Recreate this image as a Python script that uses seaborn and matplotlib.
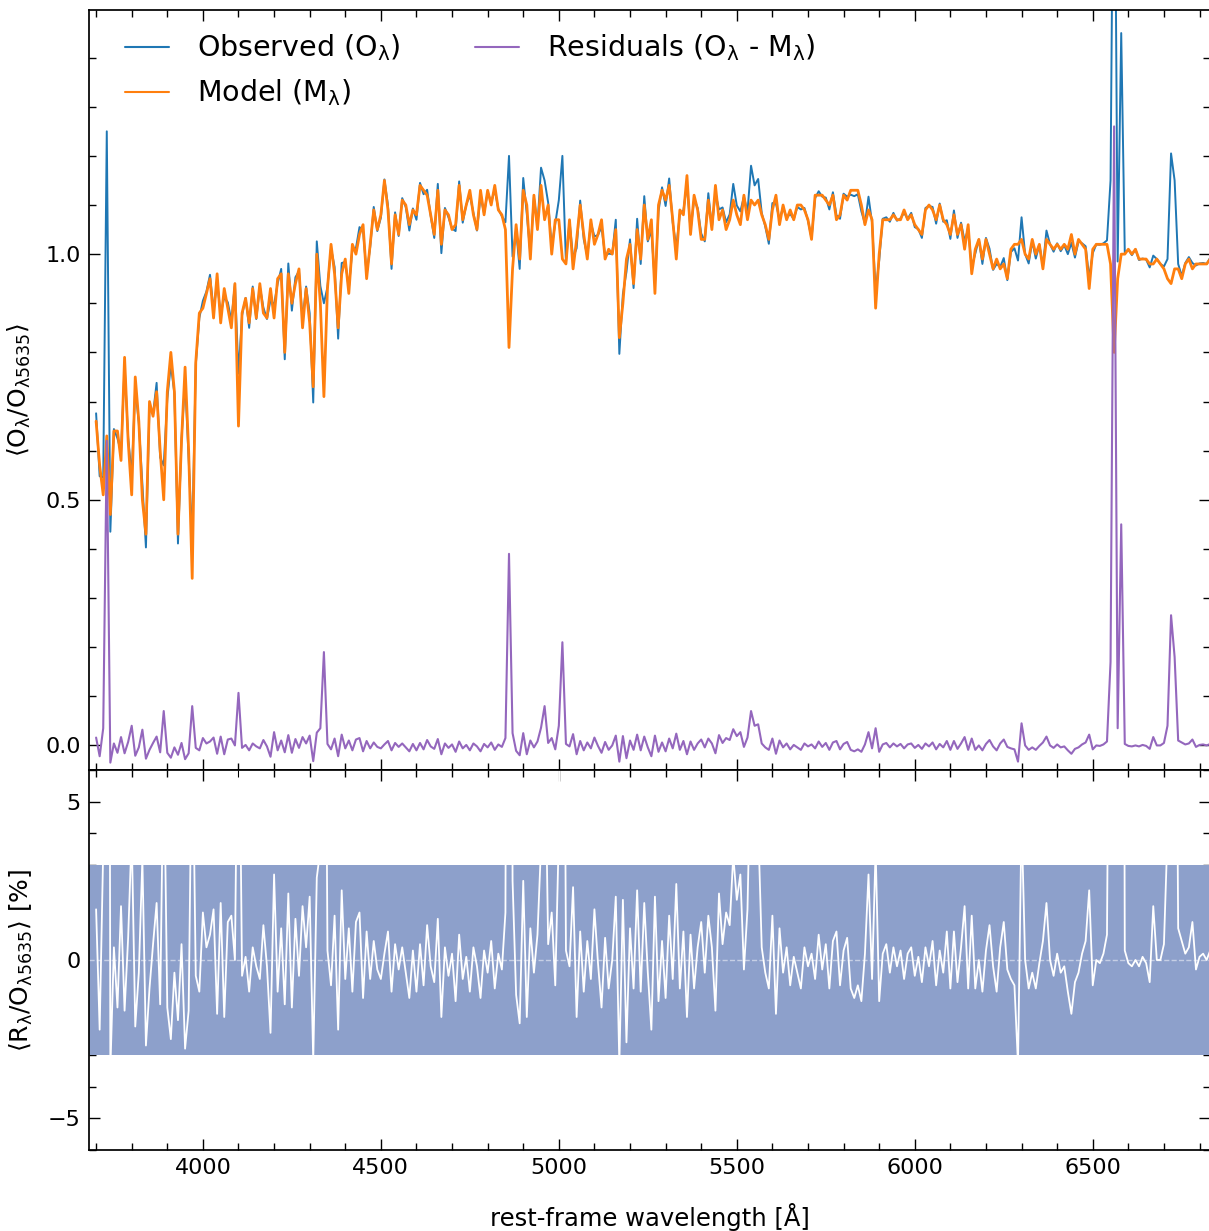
import numpy as np
import pandas as pd
import matplotlib
matplotlib.use('Agg')
import matplotlib.pyplot as plt
from matplotlib.ticker import MultipleLocator
import seaborn as sns

# wavelength sampling of the spectrum [Angstrom]
wl_start, wl_stop, wl_step = 3700, 6830, 10

# model spectrum M_lambda (normalised at 5635 A), one value per 10 A from 3700 A
model = [
    .66, .57, .51, .63, .47, .64, .64, .58, .79, .62,
    .51, .75, .66, .50, .43, .70, .67, .72, .60, .50,
    .72, .80, .72, .43, .62, .77, .60, .34, .78, .88,
    .89, .92, .95, .87, .96, .86, .93, .89, .85, .94,
    .65, .88, .91, .86, .93, .87, .94, .88, .87, .93,
    .87, .95, .96, .80, .96, .90, .94, .97, .85, .93,
    .86, .73, 1.00, .90, .71, .93, 1.02, .96, .85, .96,
    .99, .92, 1.02, 1.00, 1.04, 1.06, .95, 1.02, 1.09, 1.05,
    1.08, 1.15, 1.09, .98, 1.08, 1.04, 1.11, 1.10, 1.06, 1.09,
    1.08, 1.14, 1.13, 1.12, 1.08, 1.04, 1.13, 1.02, 1.09, 1.08,
    1.05, 1.06, 1.14, 1.07, 1.10, 1.13, 1.08, 1.05, 1.13, 1.08,
    1.13, 1.10, 1.14, 1.09, 1.08, 1.05, .81, .97, 1.06, .99,
    1.13, 1.10, .99, 1.12, 1.05, 1.14, 1.07, 1.10, 1.00, 1.07,
    1.07, .99, .98, 1.07, .97, 1.03, 1.10, 1.04, .99, 1.07,
    1.02, 1.04, 1.07, .99, 1.01, 1.00, 1.05, .83, .90, .99,
    1.02, .94, 1.05, .99, 1.10, 1.03, 1.07, .92, 1.10, 1.13,
    1.11, 1.14, 1.07, .99, 1.09, 1.08, 1.16, 1.04, 1.12, 1.09,
    1.03, 1.03, 1.11, 1.05, 1.14, 1.07, 1.09, 1.05, 1.07, 1.11,
    1.08, 1.06, 1.12, 1.07, 1.11, 1.10, 1.11, 1.08, 1.06, 1.03,
    1.09, 1.12, 1.06, 1.10, 1.07, 1.09, 1.07, 1.10, 1.10, 1.09,
    1.07, 1.03, 1.12, 1.12, 1.12, 1.11, 1.10, 1.12, 1.07, 1.08,
    1.12, 1.11, 1.13, 1.13, 1.13, 1.10, 1.06, 1.09, 1.07, .89,
    1.00, 1.07, 1.07, 1.07, 1.08, 1.07, 1.07, 1.09, 1.07, 1.08,
    1.06, 1.05, 1.04, 1.09, 1.10, 1.09, 1.07, 1.10, 1.07, 1.06,
    1.04, 1.08, 1.04, 1.06, 1.01, 1.06, .96, 1.01, 1.03, .99,
    1.03, 1.00, .97, .99, .97, .98, .95, 1.01, 1.02, 1.02,
    1.03, 1.00, .99, 1.03, 1.00, 1.02, .97, 1.03, 1.02, 1.01,
    1.02, 1.01, 1.02, 1.01, 1.04, 1.00, 1.03, 1.02, 1.01, .93,
    1.01, 1.02, 1.02, 1.02, 1.02, .98, .80, .95, 1.00, 1.00,
    1.01, 1.00, 1.01, .99, .99, .99, .98, .98, .99, .98,
    .97, .95, .94, .97, .97, .95, .98, .99, .97, .98,
    .98, .98, .98, .99,
]

# residuals R_lambda = O_lambda - M_lambda, in % of O_5635
resid_pct = [
    1.6, -2.2, 3.5, 62.0, -3.5, 0.4, -1.5, 1.7, -1.6, 0.7,
    4.0, -2.1, -0.4, 3.2, -2.7, -0.9, 0.5, 1.8, -1.4, 7.0,
    -1.5, -2.5, -0.4, -1.9, 0.5, -2.8, -1.6, 8.0, -0.5, -1.0,
    1.5, 0.4, 0.8, 1.6, -1.7, 1.8, -1.8, 1.2, 1.4, 0.0,
    10.7, -0.5, 0.1, -1.0, 0.4, -0.2, -0.6, 1.1, -0.2, -2.3,
    2.7, -1.0, 1.0, -1.4, 2.1, -1.5, 1.3, -0.5, 1.7, 0.4,
    2.0, -3.2, 2.6, 3.5, 19.0, 0.3, -0.8, 1.4, -2.2, 2.2,
    -0.6, 1.0, -1.0, 1.2, 1.5, -1.2, 0.9, -0.6, 0.6, -0.3,
    -0.6, 0.2, 0.9, -1.0, 0.5, -0.3, 0.4, -0.4, -1.2, 0.3,
    -1.0, 0.5, -0.8, 1.1, -0.2, -0.7, 1.3, -1.8, 0.4, -0.5,
    0.2, -1.3, 0.8, -0.6, 0.1, -1.0, 0.4, -0.2, -1.2, 0.3,
    -0.4, 0.6, -0.9, 0.2, -0.3, 1.5, 39.0, 2.5, -1.1, -2.0,
    2.5, -1.8, 1.0, -0.4, 0.8, 3.6, 8.0, 0.5, 1.5, -0.8,
    4.0, 21.0, 0.3, -0.2, 2.3, -1.8, 0.9, -1.0, 0.6, -0.6,
    1.6, -0.1, -1.5, 0.7, -0.9, 0.0, 2.0, -3.3, 1.9, -2.6,
    1.0, -0.9, 2.2, -1.0, 1.8, -0.4, -2.2, 2.0, -1.3, 0.6,
    -1.2, 1.4, -0.6, 2.4, -0.9, 0.9, -1.8, 0.8, -0.9, 0.4,
    1.2, -0.4, 1.4, 0.4, -1.6, 2.1, 0.5, 1.5, 1.1, 3.3,
    1.9, 2.7, -0.3, 1.6, 7.0, 4.0, 4.3, 0.4, -0.4, -0.9,
    1.4, -1.7, 1.0, -0.4, 0.4, -0.8, 0.1, -0.4, -0.9, 0.4,
    -0.2, 0.2, -0.6, 0.8, -0.3, 0.5, -0.9, 0.6, 0.9, -0.8,
    0.3, 0.7, -0.9, -1.2, -0.8, -1.3, 0.2, 2.7, -0.6, 3.5,
    -1.3, 0.2, 0.5, -0.4, 0.4, -0.2, 0.3, -0.6, 0.2, 0.4,
    -0.5, 0.1, -0.7, 0.4, -0.2, 0.6, -0.8, 0.3, -0.4, 0.9,
    -0.9, 0.9, -0.7, 0.4, 1.7, -0.9, 1.4, -0.9, 0.0, -1.0,
    0.3, 1.1, -0.2, -1.0, 0.4, 1.2, -0.3, -0.6, -0.8, -3.3,
    4.5, 0.0, -0.9, -0.4, -0.9, -0.1, 0.6, 1.8, 0.0, -0.5,
    0.2, -0.4, -0.2, -1.0, -1.7, -0.7, -0.4, 0.2, 0.6, 2.2,
    -0.8, 0.0, -0.1, 0.2, 0.8, 17.0, 126.0, 3.5, 45.0, 0.3,
    -0.1, -0.2, 0.0, -0.2, 0.1, -0.1, -0.7, 1.7, 0.0, 0.0,
    0.5, 4.0, 26.5, 18.0, 1.0, 0.6, 0.2, 0.4, 1.2, -0.3,
    0.1, 0.2, 0.0, 0.3,
]

wavelength = np.arange(wl_start, wl_stop + wl_step, wl_step)
df = pd.DataFrame({'wavelength': wavelength, 'model': model, 'resid_pct': resid_pct})
df['resid'] = df['resid_pct'] / 100.0
df['observed'] = df['model'] + df['resid']

sns.set_style('ticks')
plt.rcParams['font.family'] = ['DejaVu Sans']
plt.rcParams['mathtext.default'] = 'regular'
for key in ('text.color', 'axes.labelcolor', 'xtick.color', 'ytick.color', 'axes.edgecolor'):
    plt.rcParams[key] = 'black'

fig = plt.figure(figsize=(12.09, 12.31), dpi=100)
gs = fig.add_gridspec(2, 1, height_ratios=[2, 1], hspace=0)
fig.subplots_adjust(left=0.0736, right=1.001, top=0.9919, bottom=0.0658)
ax1 = fig.add_subplot(gs[0])
ax2 = fig.add_subplot(gs[1], sharex=ax1)

# top panel: observed, model and residuals
sns.lineplot(data=df, x='wavelength', y='observed', ax=ax1, color='#1f77b4', lw=1.4,
             estimator=None, sort=False, label=r'Observed (O$_\lambda$)')
sns.lineplot(data=df, x='wavelength', y='model', ax=ax1, color='#ff7f0e', lw=2.0,
             estimator=None, sort=False, label=r'Model (M$_\lambda$)')
sns.lineplot(data=df, x='wavelength', y='resid', ax=ax1, color='#9467bd', lw=1.5,
             estimator=None, sort=False, label=r'Residuals (O$_\lambda$ - M$_\lambda$)')

ax1.set_ylim(-0.05, 1.497)
ax1.set_yticks([0.0, 0.5, 1.0])
ax1.yaxis.set_minor_locator(MultipleLocator(0.1))
ax1.set_xlabel('')
ax1.set_ylabel(r'$\langle$O$_\lambda$/O$_{\lambda5635}\rangle$', fontsize=18, labelpad=9)
ax1.tick_params(labelbottom=False)
leg = ax1.legend(loc='upper left', bbox_to_anchor=(0.009, 1.004), ncol=2, frameon=False,
                 fontsize=20.5, handlelength=1.55, handletextpad=1.0, columnspacing=2.6)
for h in leg.get_lines():
    h.set_linewidth(1.5)

# bottom panel: relative residuals inside the +-3 % band
ax2.axhspan(-3, 3, color='#8da0cb', lw=0)
ax2.axhline(0, color='white', ls='--', lw=1, alpha=0.5)
sns.lineplot(data=df, x='wavelength', y='resid_pct', ax=ax2, color='white', lw=1.3,
             estimator=None, sort=False)
ax2.set_ylim(-6, 6)
ax2.set_yticks([-5, 0, 5])
ax2.yaxis.set_minor_locator(MultipleLocator(1))
ax2.set_ylabel(r'$\langle$R$_\lambda$/O$_{\lambda5635}\rangle$ [%]', fontsize=18, labelpad=9)
ax2.set_xlabel('rest-frame wavelength [Å]', fontsize=17.5, labelpad=18)

ax1.set_xlim(3680, 6830)
ax1.xaxis.set_major_locator(MultipleLocator(500))
ax1.xaxis.set_minor_locator(MultipleLocator(100))

for ax in (ax1, ax2):
    ax.tick_params(which='both', direction='in', top=True, right=True, width=1)
    ax.tick_params(which='major', length=8, labelsize=16, pad=6)
    ax.tick_params(which='minor', length=5)
    for sp in ax.spines.values():
        sp.set_linewidth(1.25)

fig.savefig('out.png', dpi=100)
